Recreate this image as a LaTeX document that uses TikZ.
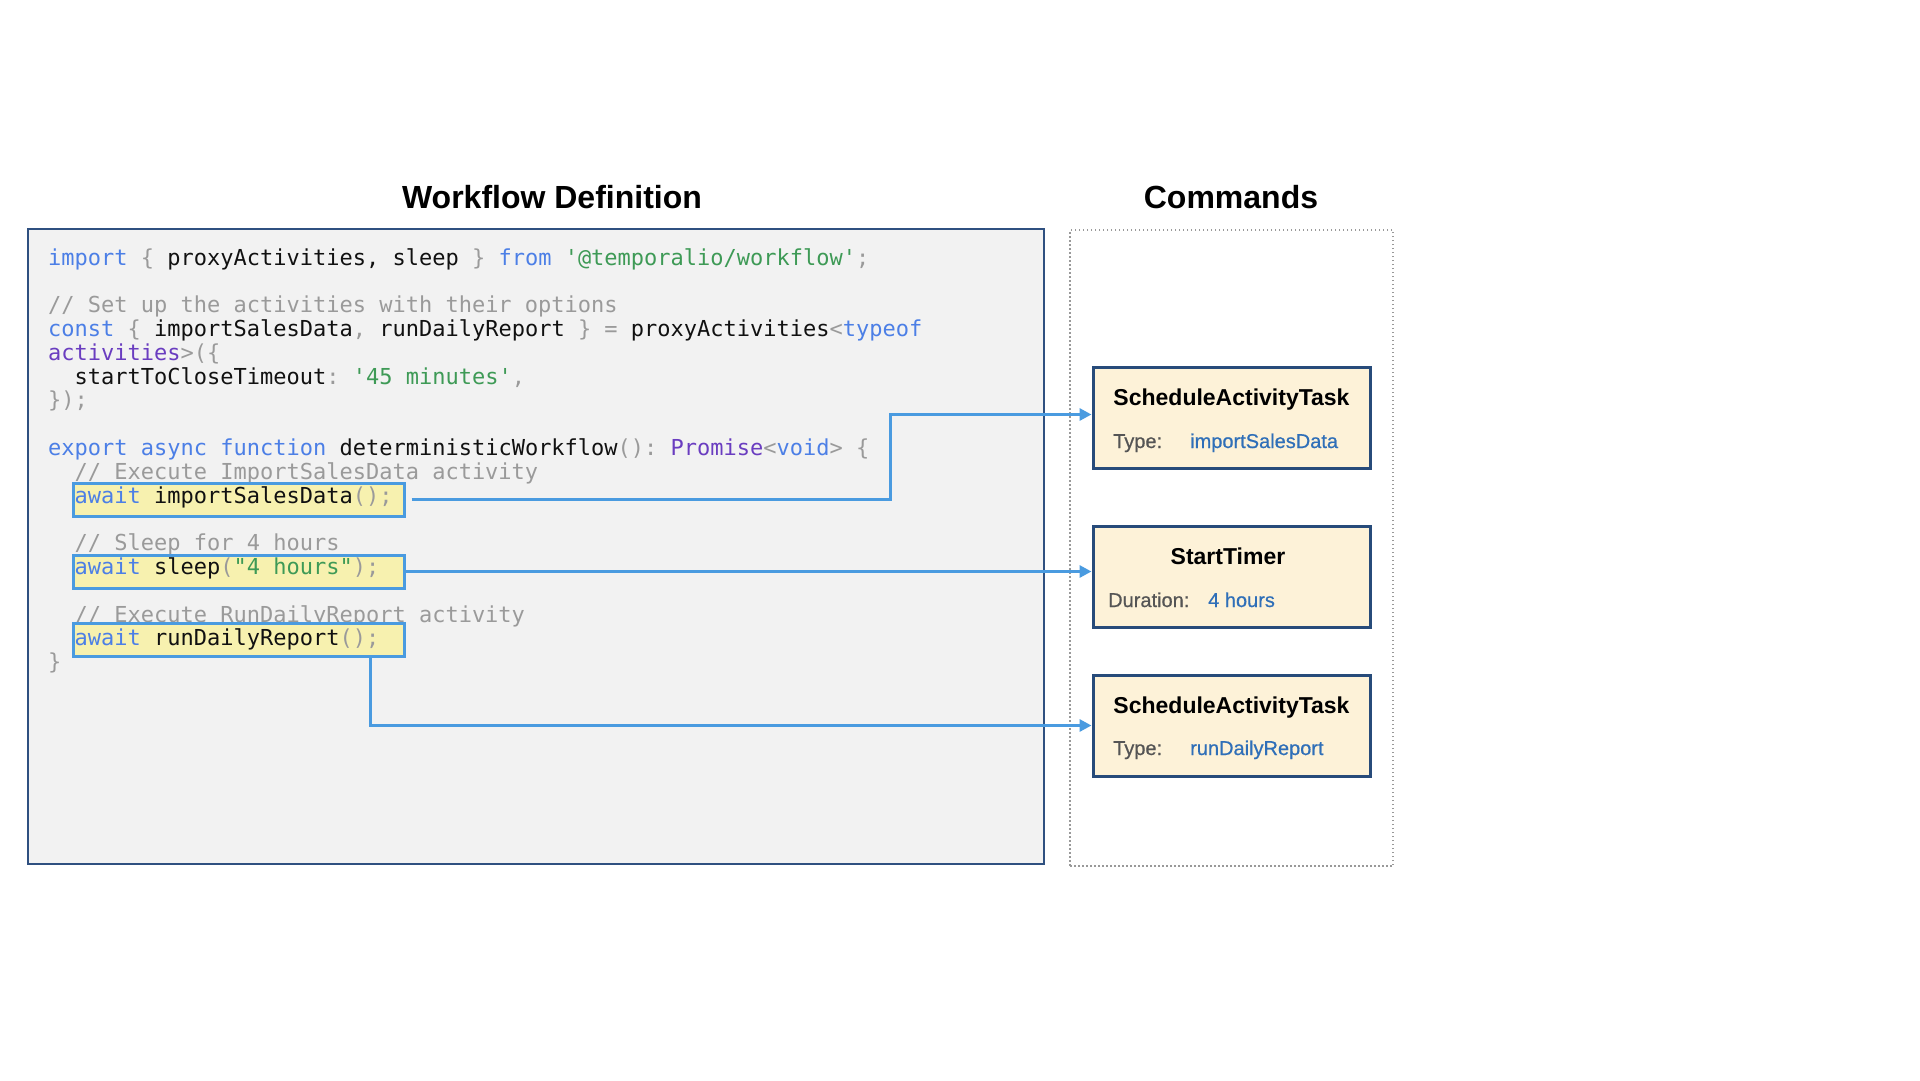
\documentclass[tikz,border=0pt]{standalone}
\usepackage{fontspec}
\setmainfont{Liberation Sans}
\setmonofont{DejaVu Sans Mono}
\newfontfamily\medsans{Liberation Sans}[FakeBold=0.6]
\usetikzlibrary{arrows.meta}
\definecolor{kwc}{HTML}{4C7FE6}
\definecolor{prc}{HTML}{6A3DC0}
\definecolor{stc}{HTML}{3E9A56}
\definecolor{puc}{HTML}{9A9A9A}
\definecolor{cmc}{HTML}{9A9A9A}
\definecolor{idc}{HTML}{111111}
\definecolor{codebg}{HTML}{F2F2F2}
\definecolor{codeborder}{HTML}{2F5080}
\definecolor{hlfill}{HTML}{F7F1AF}
\definecolor{hlborder}{HTML}{4A9BE0}
\definecolor{arrowc}{HTML}{4A9BE0}
\definecolor{cmdfill}{HTML}{FDF2D8}
\definecolor{cmdborder}{HTML}{274B7A}
\definecolor{lblc}{HTML}{555555}
\definecolor{valc}{HTML}{2F6FB8}
\definecolor{areac}{HTML}{999999}
\newcommand\ckw[1]{\textcolor{kwc}{#1}}
\newcommand\cpr[1]{\textcolor{prc}{#1}}
\newcommand\cst[1]{\textcolor{stc}{#1}}
\newcommand\cpu[1]{\textcolor{puc}{#1}}
\newcommand\ccm[1]{\textcolor{cmc}{#1}}
\begin{document}
\begin{tikzpicture}[x=1pt,y=-1pt,
  titlestyle/.style={anchor=base,inner sep=0,font=\bfseries\fontsize{32}{36}\selectfont,text=black},
  codebox/.style={draw=codeborder,fill=codebg,line width=2pt,minimum width=1016pt,minimum height=635pt,inner sep=0},
  cmdarea/.style={draw=areac,line width=1.5pt,dash pattern=on 1.5pt off 2.5pt,minimum width=323pt,minimum height=636pt,inner sep=0},
  codeline/.style={anchor=base west,inner sep=0,text=idc,font=\ttfamily\fontsize{22}{26}\selectfont\frenchspacing},
  hlbox/.style={draw=hlborder,fill=hlfill,line width=3pt,minimum width=331pt,minimum height=33pt,inner sep=0},
  cmdbox/.style={draw=cmdborder,fill=cmdfill,line width=3pt,minimum width=277pt,minimum height=101pt,inner sep=0},
  cmdtitle/.style={anchor=base,inner sep=0,font=\bfseries\fontsize{23}{27}\selectfont,text=black},
  cmdlabel/.style={anchor=base west,inner sep=0,font=\medsans\fontsize{20}{24}\selectfont,text=lblc},
  cmdvalue/.style={anchor=base west,inner sep=0,font=\medsans\fontsize{20}{24}\selectfont,text=valc},
  conn/.style={draw=arrowc,line width=3pt,-{Triangle[length=12pt,width=12pt]}}
]
\useasboundingbox (0,0) rectangle (1920,1080);
\fill[white] (0,0) rectangle (1920,1080);

% titles
\node[titlestyle] (t1) at (552,208) {Workflow Definition};
\node[titlestyle] (t2) at (1231,208) {Commands};

% containers
\node[codebox] (code) at (536,546.5) {};
\node[cmdarea] (area) at (1231.5,548) {};

% code lines (baseline = 265 + 23.8 n)
\node[codeline] (l0) at (48,265) {\ckw{import} \cpu{\{} proxyActivities, sleep \cpu{\}} \ckw{from} \cst{'@temporalio/workflow'}\cpu{;}};
\node[codeline] (l2) at (48,312.6) {\ccm{// Set up the activities with their options}};
\node[codeline] (l3) at (48,336.4) {\ckw{const} \cpu{\{} importSalesData\cpu{,} runDailyReport \cpu{\}} \cpu{=} proxyActivities\cpu{<}\ckw{typeof}};
\node[codeline] (l4) at (48,360.2) {\cpr{activities}\cpu{>(\{}};
\node[codeline] (l5) at (74.48,384) {startToCloseTimeout\cpu{:} \cst{'45 minutes'}\cpu{,}};
\node[codeline] (l6) at (48,407.8) {\cpu{\});}};
\node[codeline] (l8) at (48,455.4) {\ckw{export async function} deterministicWorkflow\cpu{():} \cpr{Promise}\cpu{<}\ckw{void}\cpu{>} \cpu{\{}};
\node[codeline] (l9) at (74.48,479.2) {\ccm{// Execute ImportSalesData activity}};
\node[codeline] (l12) at (74.48,550.6) {\ccm{// Sleep for 4 hours}};
\node[codeline] (l15) at (74.48,622) {\ccm{// Execute RunDailyReport activity}};
\node[codeline] (l17) at (48,669.6) {\cpu{\}}};

% highlight boxes
\node[hlbox] (h1) at (238.5,499.5) {};
\node[hlbox] (h2) at (238.5,571.5) {};
\node[hlbox] (h3) at (238.5,640) {};

\node[codeline] (l10) at (74.48,503) {\ckw{await} importSalesData\cpu{();}};
\node[codeline] (l13) at (74.48,574.4) {\ckw{await} sleep\cpu{(}\cst{"4 hours"}\cpu{);}};
\node[codeline] (l16) at (74.48,645.8) {\ckw{await} runDailyReport\cpu{();}};

% command boxes
\node[cmdbox] (c1) at (1231.5,417.5) {};
\node[cmdbox] (c2) at (1231.5,576.5) {};
\node[cmdbox] (c3) at (1231.5,725.5) {};

\node[cmdtitle] (c1t) at (1231.5,405) {ScheduleActivityTask};
\node[cmdlabel] (c1l) at (1113,448) {Type:};
\node[cmdvalue] (c1v) at (1190,448) {importSalesData};

\node[cmdtitle] (c2t) at (1228,564) {StartTimer};
\node[cmdlabel] (c2l) at (1108,607) {Duration:};
\node[cmdvalue] (c2v) at (1208,607) {4 hours};

\node[cmdtitle] (c3t) at (1231.5,713) {ScheduleActivityTask};
\node[cmdlabel] (c3l) at (1113,755) {Type:};
\node[cmdvalue] (c3v) at (1190,755) {runDailyReport};

% connectors
\coordinate (k1) at (890,0);
\coordinate (k3) at (370,0);
\draw[conn] ([xshift=6pt]h1.east) -- (h1.east -| k1) |- ([yshift=3pt]c1.west);
\draw[conn] (h2.east) -- (h2.east -| c2.west);
\draw[conn] (k3 |- h3.south) |- (c3.west);
\end{tikzpicture}
\end{document}
